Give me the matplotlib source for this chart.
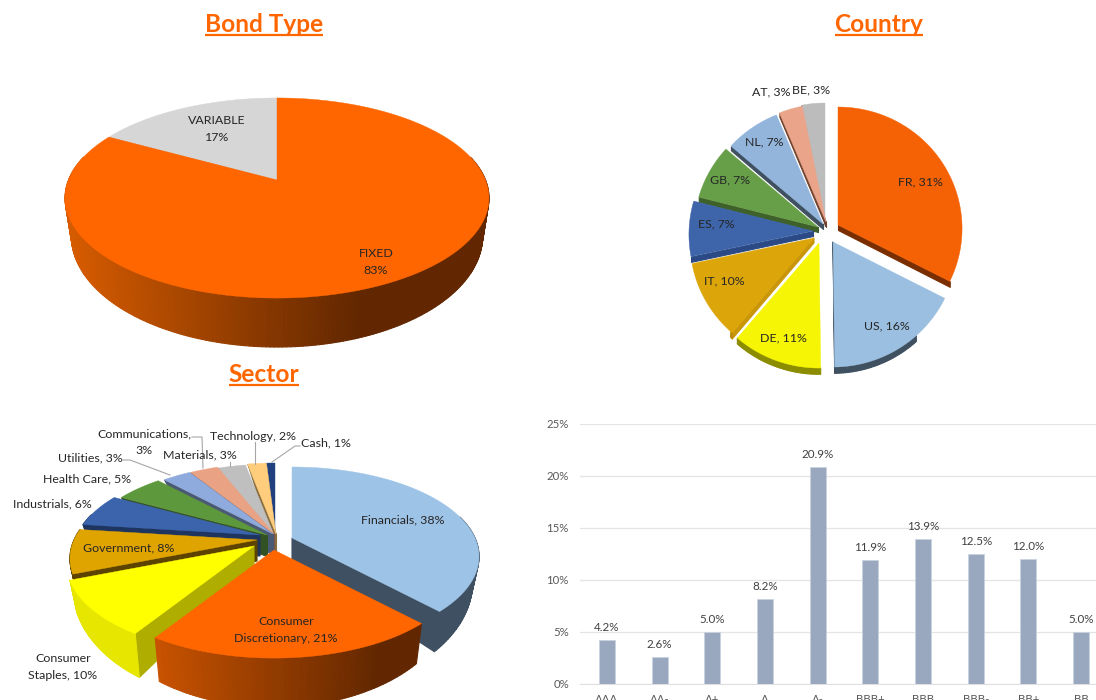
import matplotlib
matplotlib.use("Agg")
import numpy as np
import matplotlib.pyplot as plt
from matplotlib.collections import PolyCollection
from matplotlib.colors import to_rgb

# ---------- data ----------
bond_labels = ["FIXED\n83%", "VARIABLE\n17%"]
bond_values = [83, 17]

country_labels = ["FR, 31%", "US, 16%", "DE, 11%", "IT, 10%", "ES, 7%", "GB, 7%", "NL, 7%", "AT, 3%", "BE, 3%"]
country_values = [31, 16.4, 10.8, 10, 7, 7, 7, 3, 3]

sector_labels = ["Financials, 38%", "Consumer\nDiscretionary, 21%", "Consumer\nStaples, 10%", "Government, 8%",
                 "Industrials, 6%", "Health Care, 5%", "Utilities, 3%", "Communications,\n3%", "Materials, 3%",
                 "Technology, 2%", "Cash, 1%"]
sector_values = [38, 21, 10, 8, 6, 5, 3, 3, 3, 2, 1]

rating_labels = ["AAA", "AA-", "A+", "A", "A-", "BBB+", "BBB", "BBB-", "BB+", "BB"]
rating_values = [4.2, 2.6, 5.0, 8.2, 20.9, 11.9, 13.9, 12.5, 12.0, 5.0]

# ---------- style ----------
FONT = "Lato"
plt.rcParams["font.family"] = [FONT, "DejaVu Sans"]
ORANGE = "#ff6600"
W, H = 1096, 700

bond_style = dict(
    sx=208.5, sy=96.8, k=0.18, fx=0.97, fy=1.11, d0=36, arc_cos=0.25,
    apex=[(277, 180), (277, 180)],
    top=["#ff6600", "#d6d6d6"],
    wall=[("#d85c00", "#622700"), ("#8c8c8c", "#8c8c8c")],
    cut=["#7a3000", "#8c8c8c"],
    order=[1, 0], lim=(65, 360))

country_style = dict(
    sx=124, sy=121.4, k=0.029, fx=1.0, fy=1.01, d0=5, arc_cos=-0.75,
    apex=[(838, 225), (833, 242), (819, 243), (814, 238), (813, 231),
          (818, 227), (823, 224), (826, 222), (825, 221)],
    top=["#f56205", "#9bbfe0", "#f5f505", "#dca60a", "#3e64aa", "#679f49", "#93b5dc", "#eaa48a", "#bcbcbc"],
    wall=[("#7a2e00",) * 2, ("#3f5060",) * 2, ("#8c8c00",) * 2, ("#b98908",) * 2, ("#2b4a85",) * 2,
          ("#3e6029",) * 2, ("#3f5060",) * 2, ("#70432f",) * 2, ("#666666",) * 2],
    cut=["#7a2e00", "#3f5060", "#8c8c00", "#c9960a", "#2b4a85", "#3e6029", "#3f5060", "#70432f", "#666666"],
    order=list(range(8, -1, -1)), lim=(688, 962))

sector_style = dict(
    sx=183, sy=85.7, k=0.207, fx=0.965, fy=1.26, d0=21, arc_cos=0.25,
    apex=[(292, 538), (274, 550), (254, 546), (257, 540), (260, 535), (267, 535),
          (273, 534), (274, 534), (274, 535), (276, 534), (275, 534)],
    top=["#9dc3e6", "#ff6600", "#ffff00", "#e0a400", "#3b64ad", "#5e983c",
         "#8faadc", "#e9a283", "#bfbfbf", "#ffcd7b", "#1f3f7f"],
    wall=[("#3f5062",) * 2, ("#cc5400", "#622700"), ("#e6e600", "#c8c800"), ("#5c4300",) * 2,
          ("#1e3560",) * 2, ("#335223",) * 2, ("#4a5a75",) * 2, ("#7d5647",) * 2,
          ("#666666",) * 2, ("#8a6e42",) * 2, ("#10203f",) * 2],
    cut=["#3f5062", "#7a3000", "#afad00", "#5c4300", "#1e3560", "#335223", "#4a5a75",
         "#7d5647", "#666666", "#8a6e42", "#10203f"],
    order=[10, 9, 8, 7, 6, 5, 4, 3, 2, 0, 1], lim=(150, 380))

fig = plt.figure(figsize=(W / 100, H / 100), dpi=100, facecolor="white")
canvas = fig.add_axes([0, 0, 1, 1])
canvas.set_xlim(0, W)
canvas.set_ylim(H, 0)
canvas.axis("off")


def mix(c0, c1, t):
    a, b = np.array(to_rgb(c0)), np.array(to_rgb(c1))
    return tuple(a + (b - a) * np.clip(t, 0, 1))


def pie3d(ax, values, st):
    total = float(sum(values))
    edges = np.cumsum([0] + list(values)) / total * 2 * np.pi
    for i in st["order"]:
        th = np.linspace(edges[i], edges[i + 1], max(4, int((edges[i + 1] - edges[i]) * 60)))
        w = 1 + st["k"] * np.cos(th)
        X = st["sx"] * np.sin(th) / w
        D = -st["sy"] * np.cos(th) / w
        ax0, ay0 = st["apex"][i]
        top = np.column_stack([ax0 + X, ay0 + D])
        bot = np.column_stack([ax0 + st["fx"] * X, ay0 + st["fy"] * D + st["d0"]])
        a_top = np.array([ax0, ay0], float)
        a_bot = np.array([ax0, ay0 + st["d0"]], float)
        quads, cols = [], []
        if np.sin(th[0]) < -1e-6:
            quads.append([a_top, top[0], bot[0], a_bot])
            cols.append(st["cut"][i])
        if np.sin(th[-1]) > 1e-6:
            quads.append([a_top, top[-1], bot[-1], a_bot])
            cols.append(st["cut"][i])
        for j in range(len(th) - 1):
            if np.cos(0.5 * (th[j] + th[j + 1])) > st["arc_cos"]:
                continue
            quads.append([top[j], top[j + 1], bot[j + 1], bot[j]])
            t = (top[j][0] - st["lim"][0]) / (st["lim"][1] - st["lim"][0])
            cols.append(mix(st["wall"][i][0], st["wall"][i][1], t))
        if quads:
            idx = sorted(range(len(quads)), key=lambda n: np.mean(np.array(quads[n])[:, 1]))
            ax.add_collection(PolyCollection([quads[n] for n in idx], facecolors=[cols[n] for n in idx],
                                             edgecolors=[cols[n] for n in idx], linewidths=0.8))
        ax.fill(*np.vstack([a_top, top]).T, color=st["top"][i], lw=0.3)


pie3d(canvas, bond_values, bond_style)
pie3d(canvas, country_values, country_style)
pie3d(canvas, sector_values, sector_style)

# ---------- pie labels ----------
DARK = "#262626"
FS = 8.9


def put(ax, s, x, y, color=DARK, ha="center", ls=1.6):
    ax.text(x, y, s, ha=ha, va="center", fontsize=FS, color=color, linespacing=ls)


bond_pos = [(376, 262), (217, 129)]
for s, (x, y) in zip(bond_labels, bond_pos):
    put(canvas, s, x, y)

country_pos = [(920, 182), (887, 326), (783, 338), (724, 281), (716, 224),
               (730, 180), (764, 142), (771, 92), (811, 90)]
for s, (x, y) in zip(country_labels, country_pos):
    put(canvas, s, x, y)

sector_pos = [(403, 520), (286, 630), (63, 667), (129, 548), (52, 504), (87, 479),
              (90, 458), (144, 442), (200, 455), (253, 436), (326, 443)]
for s, (x, y) in zip(sector_labels, sector_pos):
    put(canvas, s, x, y)

leaders = [
    ([192, 202, 203], [437, 437, 468]),
    ([255, 255], [442, 464]),
    ([300, 295, 272], [446, 446, 462]),
    ([123, 130, 170], [460, 460, 475]),
    ([230, 230], [462, 466]),
]
for xs, ys in leaders:
    canvas.plot(xs, ys, color="#a6a6a6", lw=0.8)

# ---------- titles ----------
titles = [("Bond Type", 264, 24), ("Country", 879, 24), ("Sector", 264, 374)]
fig.canvas.draw()
rend = fig.canvas.get_renderer()
for s, x, y in titles:
    t = canvas.text(x, y, s, ha="center", va="center", fontsize=17.6, fontweight="bold", color=ORANGE)
    ext = t.get_window_extent(rend)
    canvas.plot([ext.x0, ext.x1], [y + 11, y + 11], color=ORANGE, lw=1.6, solid_capstyle="butt")

# ---------- bar chart ----------
left, right, ybase, ytop = 580, 1096, 684, 424
step = 52.67
bar = fig.add_axes([left / W, (H - ybase) / H, (right - left) / W, (ybase - ytop) / H])
bar.patch.set_alpha(0)
xpos = np.arange(len(rating_values))
bars = bar.bar(xpos, rating_values, width=16 / step, color="#9aa8bf", edgecolor="#c9d2e0", linewidth=0.6, zorder=3)
bar.set_xlim(-(607 - left) / step, (right - 607) / step)
bar.set_ylim(0, 25)
bar.set_yticks([0, 5, 10, 15, 20, 25])
bar.set_yticklabels([f"{v}%" for v in [0, 5, 10, 15, 20, 25]], fontsize=8.2, color="#595959")
bar.set_xticks(xpos)
bar.set_xticklabels(rating_labels, fontsize=8.2, color="#595959")
bar.tick_params(axis="both", length=0)
bar.tick_params(axis="x", pad=7)
bar.tick_params(axis="y", pad=8)
bar.grid(axis="y", color="#e4e4e4", lw=0.9, zorder=0)
for sp in ("top", "left", "right"):
    bar.spines[sp].set_visible(False)
bar.spines["bottom"].set_color("#e0e0e0")
for x, v in zip(xpos, rating_values):
    bar.annotate(f"{v:.1f}%", (x, v), xytext=(0, 5), textcoords="offset points",
                 ha="center", va="bottom", fontsize=8.4, color="#404040")

fig.savefig("out.png", dpi=100)
